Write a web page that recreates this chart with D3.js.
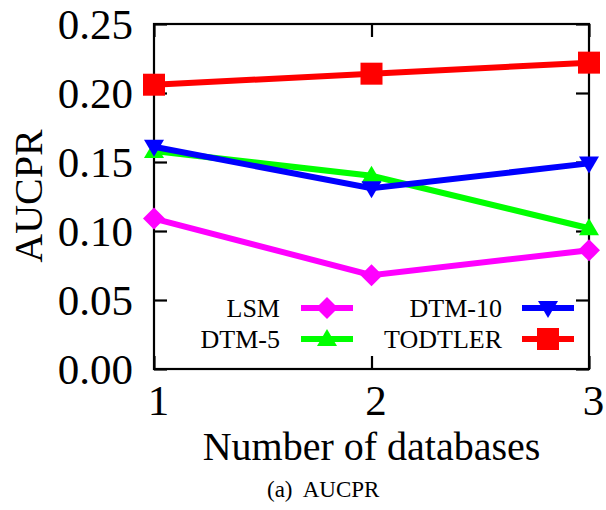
<!DOCTYPE html>
<html>
<head>
<meta charset="utf-8">
<script src="https://cdn.jsdelivr.net/npm/d3@7"></script>
<style>
  body { margin: 0; background: #fff; }
</style>
</head>
<body>
<script>
const w = 606,
  h = 510;
const serif = "'Times New Roman', 'Liberation Serif', Times, serif";

// number of databases
const dbCounts = [1, 2, 3];
const yTicks = [0, 0.05, 0.10, 0.15, 0.20, 0.25];

const lsm = [0.109, 0.068, 0.086];
const dtm5 = [0.158, 0.140, 0.102];
const dtm10 = [0.161, 0.131, 0.149];
const todtler = [0.206, 0.214, 0.222];

const seriesNames = ["LSM", "DTM-5", "DTM-10", "TODTLER"];
const seriesValues = [lsm, dtm5, dtm10, todtler];
const colors = ["#ff00ff", "#00ff00", "#0000ff", "#ff0000"];
const markers = ["diamond", "up", "down", "square"];

const m = { left: 154, right: 589, top: 24, bottom: 369 };

const x = d3.scaleLinear().domain([1, 3]).range([m.left, m.right]);
const y = d3.scaleLinear().domain([0, 0.25]).range([m.bottom, m.top]);

const svg = d3.select("body").append("svg")
  .attr("width", w)
  .attr("height", h);

// marker shapes, centred on 0,0
function markerPath(kind) {
  if (kind == "square") return "M-11,-11H11V11H-11Z";
  if (kind == "diamond") return "M0,-11L11,0L0,11L-11,0Z";
  if (kind == "up") return "M0,-10L10,7H-10Z";
  return "M0,10L10,-7H-10Z";
}

// frame
svg.append("rect")
  .attr("x", m.left).attr("y", m.top)
  .attr("width", m.right - m.left).attr("height", m.bottom - m.top)
  .attr("fill", "none").attr("stroke", "#000").attr("stroke-width", 2.2);

// y ticks (left inward, mirrored right)
const yAxisL = d3.axisLeft(y).tickValues(yTicks).tickSize(-13).tickPadding(21)
  .tickFormat(d3.format(".2f"));
const gy = svg.append("g").attr("transform", "translate(" + m.left + ",0)").call(yAxisL);
gy.attr("font-family", serif);
gy.select(".domain").remove();
gy.selectAll("line").attr("stroke-width", 2.2);
gy.selectAll("text").attr("font-size", 43).attr("dy", "0.34em");

const gyR = svg.append("g").attr("transform", "translate(" + m.right + ",0)")
  .call(d3.axisRight(y).tickValues(yTicks).tickSize(-13).tickFormat(""));
gyR.select(".domain").remove();
gyR.selectAll("line").attr("stroke-width", 2.2);

// x ticks
const gx = svg.append("g").attr("transform", "translate(0," + m.bottom + ")")
  .call(d3.axisBottom(x).tickValues(dbCounts).tickSize(-13).tickPadding(15)
    .tickFormat(d3.format("d")));
gx.attr("font-family", serif);
gx.select(".domain").remove();
gx.selectAll("line").attr("stroke-width", 2.2);
gx.selectAll("text").attr("font-size", 43).attr("dx", 4);

const gxT = svg.append("g").attr("transform", "translate(0," + m.top + ")")
  .call(d3.axisTop(x).tickValues(dbCounts).tickSize(-13).tickFormat(""));
gxT.select(".domain").remove();
gxT.selectAll("line").attr("stroke-width", 2.2);

// lines + points
const line = d3.line()
  .x(function(d, i) { return x(dbCounts[i]); })
  .y(function(d) { return y(d); });

seriesValues.forEach(function(vals, k) {
  svg.append("path")
    .attr("d", line(vals))
    .attr("fill", "none")
    .attr("stroke", colors[k])
    .attr("stroke-width", 6);
  svg.selectAll(".pt" + k)
    .data(vals)
    .enter()
    .append("path")
    .attr("class", "pt" + k)
    .attr("transform", function(d, i) {
      return "translate(" + x(dbCounts[i]) + "," + y(d) + ")";
    })
    .attr("d", markerPath(markers[k]))
    .attr("fill", colors[k]);
});

// legend: 2 columns, text then sample
const legendPos = [
  { tx: 280, lx: 301, y: 308 },
  { tx: 280, lx: 301, y: 339 },
  { tx: 502, lx: 522, y: 308 },
  { tx: 502, lx: 522, y: 339 }
];
seriesNames.forEach(function(name, k) {
  const p = legendPos[k];
  svg.append("text")
    .attr("x", p.tx).attr("y", p.y)
    .attr("dy", "0.33em")
    .attr("text-anchor", "end")
    .attr("font-family", serif)
    .attr("font-size", 26)
    .text(name);
  svg.append("line")
    .attr("x1", p.lx).attr("x2", p.lx + 52)
    .attr("y1", p.y).attr("y2", p.y)
    .attr("stroke", colors[k]).attr("stroke-width", 6);
  svg.append("path")
    .attr("transform", "translate(" + (p.lx + 26) + "," + p.y + ")")
    .attr("d", markerPath(markers[k]))
    .attr("fill", colors[k]);
});

// axis titles
svg.append("text")
  .attr("x", (m.left + m.right) / 2).attr("y", 460)
  .attr("text-anchor", "middle")
  .attr("font-family", serif)
  .attr("font-size", 40)
  .text("Number of databases");

svg.append("text")
  .attr("transform", "translate(42,196) rotate(-90)")
  .attr("text-anchor", "middle")
  .attr("font-family", serif)
  .attr("font-size", 40)
  .text("AUCPR");

svg.append("text")
  .attr("x", 267).attr("y", 497)
  .attr("font-family", serif)
  .attr("font-size", 23)
  .attr("xml:space", "preserve")
  .style("white-space", "pre")
  .text("(a)  AUCPR");
</script>
</body>
</html>
